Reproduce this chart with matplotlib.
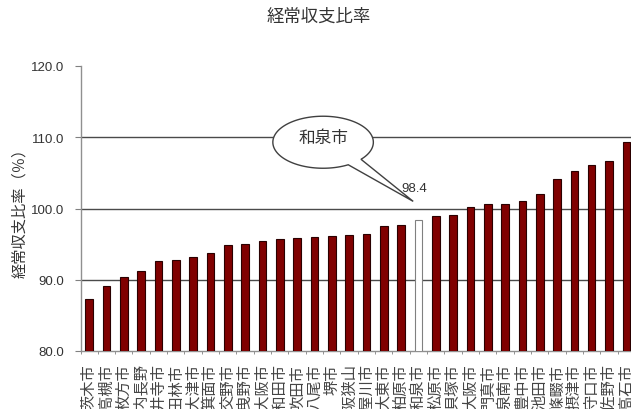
import numpy as np
import matplotlib
matplotlib.use("Agg")
import matplotlib.pyplot as plt
from matplotlib.patches import Polygon

plt.rcParams['font.family'] = ['Noto Sans CJK JP', 'DejaVu Sans']

# 経常収支比率（％）by city, sorted ascending
cities = ["茨木市", "高槻市", "枚方市", "河内長野", "藤井寺市", "富田林市", "泉大津市",
          "箕面市", "交野市", "羽曳野市", "東大阪市", "岸和田市", "吹田市", "八尾市",
          "堺市", "大阪狭山", "寝屋川市", "大東市", "柏原市", "和泉市", "松原市",
          "貝塚市", "大阪市", "門真市", "泉南市", "豊中市", "池田市", "四條畷市",
          "摂津市", "守口市", "泉佐野市", "高石市"]
ratios = [87.3, 89.1, 90.4, 91.2, 92.6, 92.8, 93.2, 93.8, 94.9, 95.0, 95.5,
          95.7, 95.8, 96.0, 96.1, 96.3, 96.4, 97.5, 97.7, 98.4, 99.0, 99.1,
          100.2, 100.7, 100.7, 101.1, 102.1, 104.1, 105.2, 106.1, 106.6, 109.3]
highlight = "和泉市"
y_ticks = [80.0, 90.0, 100.0, 110.0, 120.0]

W, H = 631, 410
fig = plt.figure(figsize=(W / 100, H / 100), dpi=100)
ax_w = 635 - 80.5
ax = fig.add_axes([80.5 / W, 1 - 352 / H, ax_w / W, (352 - 67) / H])

x = np.arange(len(cities))
hi = cities.index(highlight)
face = ["#ffffff" if i == hi else "#800000" for i in x]
edge = ["#808080" if i == hi else "#2a0000" for i in x]
ax.bar(x, ratios, width=0.44, bottom=0, color=face, edgecolor=edge,
       linewidth=0.8, zorder=3)

ax.set_ylim(y_ticks[0], y_ticks[-1])
ax.set_xlim(-0.48, len(cities) - 0.52)
ax.set_yticks(y_ticks)
ax.set_yticklabels([f"{v:.1f}" for v in y_ticks], family="Liberation Sans",
                   fontsize=9.5, color="#333333")
for v in y_ticks[1:-1]:
    ax.axhline(v, color="#4a4a4a", linewidth=1.0, zorder=1)

ax.set_xticks(x)
ax.set_xticklabels(cities, rotation=90, va="top", ha="center",
                   fontsize=11, color="#444444")
ax.set_xticks(np.arange(len(cities) + 1) - 0.5, minor=True)
ax.tick_params(axis="x", which="major", length=0, pad=9)
ax.tick_params(axis="x", which="minor", length=2, color="#808080")
ax.tick_params(axis="y", length=4, color="#808080", pad=8)

for s in ("top", "right"):
    ax.spines[s].set_visible(False)
for s in ("left", "bottom"):
    ax.spines[s].set_color("#909090")
    ax.spines[s].set_linewidth(1.0)

fig.text(319 / W, 1 - 17 / H, "経常収支比率", ha="center", va="center",
         fontsize=12.5, color="#333333")
ax.set_ylabel("経常収支比率（％）", fontsize=11, color="#333333")
ax.yaxis.set_label_coords(-52 / ax_w, 0.5)

# speech-bubble callout pointing at the highlighted city
val = ratios[hi]
cx, cy = hi - 5.5, val + 10.9
a, b = 2.9, 3.65
tip = (hi - 0.3, val + 2.6)
t = np.radians(np.linspace(-41, 300, 200))
pts = np.column_stack([cx + a * np.cos(t), cy + b * np.sin(t)])
pts = np.vstack([pts, tip])
ax.add_patch(Polygon(pts, closed=True, facecolor="white", edgecolor="#404040",
                     linewidth=1.0, zorder=5, clip_on=False))
ax.text(cx, cy + 0.6, highlight, ha="center", va="center", fontsize=12,
        color="#333333", zorder=6)
ax.text(hi - 0.96, val + 4.5, f"{val:.1f}", ha="left", va="center",
        family="Liberation Sans", fontsize=9.5, color="#333333", zorder=6)

fig.savefig("out.png", dpi=100)
